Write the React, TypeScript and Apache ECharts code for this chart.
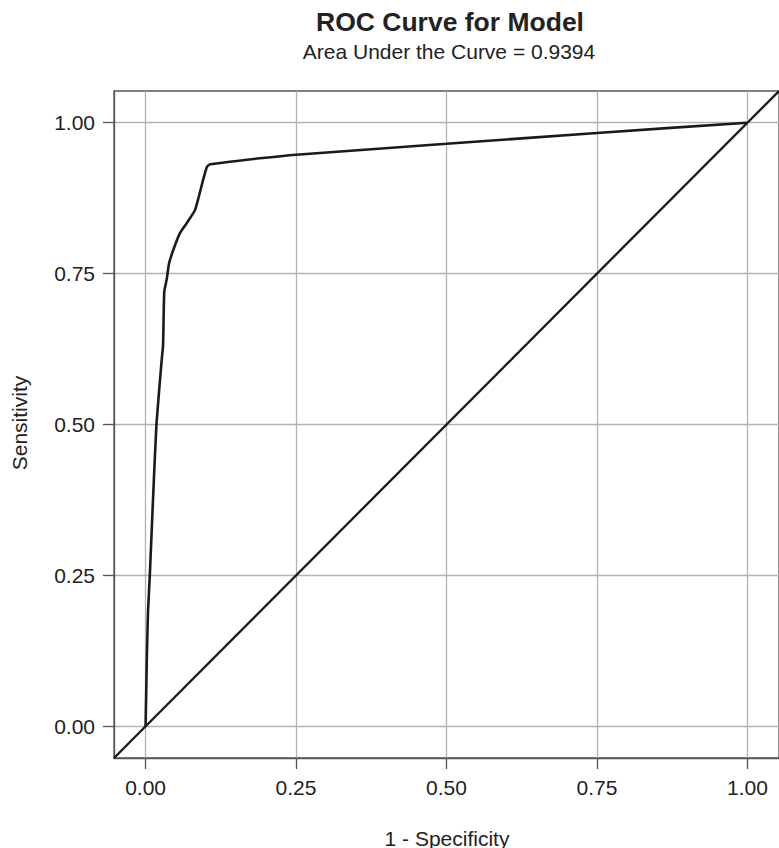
import React, { useEffect, useRef } from "react";
import * as echarts from "echarts";

const fpr = [0, 0.002, 0.004, 0.007, 0.0125, 0.018, 0.027, 0.029, 0.031, 0.035, 0.039, 0.046, 0.057, 0.068, 0.082, 0.087, 0.0955, 0.102, 0.107, 0.19, 0.25, 0.5, 0.75, 1];
const tpr = [0, 0.11, 0.19, 0.25, 0.38, 0.5, 0.61, 0.63, 0.72, 0.74, 0.767, 0.789, 0.817, 0.833, 0.855, 0.872, 0.905, 0.927, 0.931, 0.941, 0.947, 0.965, 0.983, 1];
const tickValues = [0, 0.25, 0.5, 0.75, 1];
const axisMin = -0.0525;
const axisMax = 1.0525;
const diagonal = [axisMin, axisMax];

const titleText = "ROC Curve for Model";
const subtitleText = "Area Under the Curve = 0.9394";
const xName = "1 - Specificity";
const yName = "Sensitivity";

const FONT = '"Liberation Sans", Arial, Helvetica, sans-serif';
const TEXT = "#222222";

export default function App() {
  const ref = useRef<HTMLDivElement>(null);
  useEffect(() => {
    if (!ref.current) return;
    const chart = echarts.init(ref.current, null, { renderer: "svg" });
    const axisCommon = {
      type: "value" as const,
      min: axisMin,
      max: axisMax,
      axisLine: { show: true, onZero: false, lineStyle: { color: "#555555", width: 1.3 } },
      axisTick: { show: true, customValues: tickValues, length: 11, lineStyle: { color: "#555555", width: 1.3 } },
      axisLabel: {
        customValues: tickValues,
        formatter: (v: number) => v.toFixed(2),
        color: TEXT,
        fontSize: 21,
        fontFamily: FONT,
        margin: 19,
      },
      splitLine: { show: true, lineStyle: { color: "#b3b3b3", width: 1.3 } },
    };
    chart.setOption({
      animation: false,
      grid: {
        left: 114,
        top: 91,
        width: 666,
        height: 667,
        show: true,
        borderColor: "#555555",
        borderWidth: 1.3,
        containLabel: false,
      },
      xAxis: { ...axisCommon },
      yAxis: { ...axisCommon },
      graphic: [
        {
          type: "text",
          style: { text: titleText, x: 450, y: 22, textAlign: "center", textVerticalAlign: "middle", font: `bold 26.5px ${FONT}`, fill: TEXT },
        },
        {
          type: "text",
          style: { text: subtitleText, x: 449, y: 51, textAlign: "center", textVerticalAlign: "middle", font: `21px ${FONT}`, fill: TEXT },
        },
        {
          type: "text",
          style: { text: xName, x: 447, y: 838, textAlign: "center", textVerticalAlign: "middle", font: `21px ${FONT}`, fill: TEXT },
        },
        {
          type: "text",
          x: 19,
          y: 423,
          rotation: Math.PI / 2,
          style: { text: yName, x: 0, y: 0, textAlign: "center", textVerticalAlign: "middle", font: `21px ${FONT}`, fill: TEXT },
        },
      ],
      series: [
        {
          type: "line",
          data: diagonal.map((v) => [v, v]),
          showSymbol: false,
          symbol: "none",
          lineStyle: { color: "#1a1a1a", width: 2.3 },
          silent: true,
          clip: true,
        },
        {
          type: "line",
          data: fpr.map((v, i) => [v, tpr[i]]),
          showSymbol: false,
          symbol: "none",
          smooth: 0.15,
          lineStyle: { color: "#1a1a1a", width: 2.6 },
          silent: true,
        },
      ],
    });
    return () => chart.dispose();
  }, []);
  return (
    <div
      ref={ref}
      style={{ position: "absolute", left: 0, top: 0, width: 779, height: 848, background: "#ffffff" }}
    />
  );
}
